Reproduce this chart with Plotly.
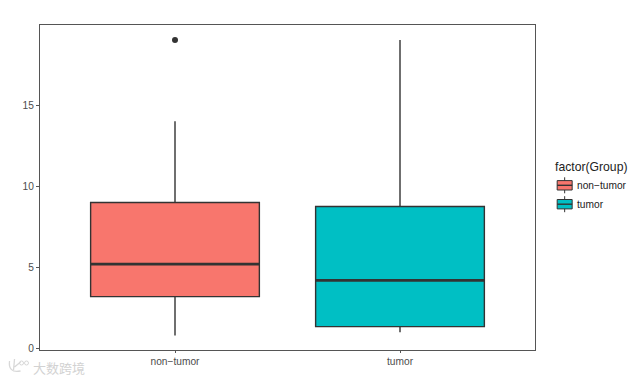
import plotly.graph_objects as go

categories = ["non\u2212tumor", "tumor"]
positions = [1, 2]
low = [0.8, 1.0]
q1 = [3.2, 1.35]
median = [5.2, 4.2]
q3 = [9.0, 8.75]
high = [14.0, 19.0]
outliers = [[19.0], []]
colors = ["#F8766D", "#00BFC4"]
y_ticks = [0, 5, 10, 15]
legend_title = "factor(Group)"
watermark = "大数跨境"
BOX_W = 0.75
INK = "#333333"
W, H = 640, 380
FONT = "Liberation Sans"

fig = go.Figure()
for i, name in enumerate(categories):
    extra = dict(y=[outliers[i]], boxpoints="outliers") if outliers[i] else dict(boxpoints=False)
    fig.add_trace(go.Box(
        x=[positions[i]], name=name,
        q1=[q1[i]], median=[median[i]], q3=[q3[i]],
        lowerfence=[low[i]], upperfence=[high[i]],
        width=BOX_W, whiskerwidth=0,
        fillcolor=colors[i],
        line=dict(color=INK, width=1.4),
        marker=dict(color=INK, size=6, opacity=1, outliercolor=INK,
                    line=dict(width=0, color=INK)),
        hoverinfo="skip", showlegend=False,
        **extra,
    ))
    fig.add_trace(go.Scatter(
        x=[positions[i] - BOX_W / 2, positions[i] + BOX_W / 2],
        y=[median[i], median[i]], mode="lines",
        line=dict(color=INK, width=2.8), showlegend=False, hoverinfo="skip",
    ))

axis_common = dict(
    showgrid=False, zeroline=False, showline=True, mirror=True,
    linecolor="#555555", linewidth=1.2,
    ticks="outside", tickwidth=1, tickcolor="#555555",
    tickfont=dict(family=FONT, size=10.2, color="#4d4d4d"),
)


def page_text(text, x, y, size, color, family=FONT):
    fig.add_annotation(text=text, xref="paper", yref="paper", x=x, y=y,
                       xanchor="left", yanchor="middle", showarrow=False,
                       font=dict(family=family, size=size, color=color))


def page_shape(**kw):
    fig.add_shape(xref="paper", yref="paper", layer="above", **kw)


margin = dict(l=39.5, r=105, t=25, b=30)
fig.update_layout(
    width=W, height=H, paper_bgcolor="white", plot_bgcolor="white",
    margin=margin, autosize=False, showlegend=False,
    xaxis=dict(range=[0.4, 2.6], tickvals=positions, ticktext=categories, ticklen=2, **axis_common),
    yaxis=dict(range=[-0.09, 19.93], tickvals=y_ticks, ticklen=3, **axis_common),
)

# paper coordinates are relative to the plot area: convert page pixels
plot_w = W - margin["l"] - margin["r"]
plot_h = H - margin["t"] - margin["b"]


def fx(x):
    return (x - margin["l"]) / plot_w


def fy(y):
    return 1 - (y - margin["t"]) / plot_h


# legend keys
page_text(legend_title, fx(553), fy(166.7), 12.2, "#222222")
for name, color, yc in zip(categories, colors, [185.3, 204.2]):
    xc = 564.7
    page_shape(type="line", x0=fx(xc), x1=fx(xc), y0=fy(yc - 8), y1=fy(yc + 8),
               line=dict(color=INK, width=1))
    page_shape(type="rect", x0=fx(xc - 7.5), x1=fx(xc + 7.5), y0=fy(yc - 4.7), y1=fy(yc + 4.7),
               fillcolor=color, line=dict(color=INK, width=1))
    page_shape(type="line", x0=fx(xc - 7.5), x1=fx(xc + 7.5), y0=fy(yc), y1=fy(yc),
               line=dict(color=INK, width=1.4))
    page_text(name, fx(575), fy(yc), 10.2, "#222222")

# watermark
page_text(watermark, fx(30), fy(367), 13, "#d2d2d2", "Noto Sans CJK SC")
page_shape(type="path",
           path=f"M {fx(9)} {fy(361)} C {fx(8)} {fy(368)} {fx(11)} {fy(373)} {fx(20)} {fy(371)} "
                f"M {fx(14)} {fy(359)} L {fx(13)} {fy(370)} M {fx(14)} {fy(367)} L {fx(20)} {fy(362)}",
           line=dict(color="#d8d8d8", width=1.3))
for cx in (21, 26):
    page_shape(type="circle", x0=fx(cx - 2), x1=fx(cx + 2), y0=fy(361), y1=fy(365),
               line=dict(color="#d8d8d8", width=1))

fig.write_html("out.html", post_script="document.body.style.margin='0';",
               config=dict(displayModeBar=False))
